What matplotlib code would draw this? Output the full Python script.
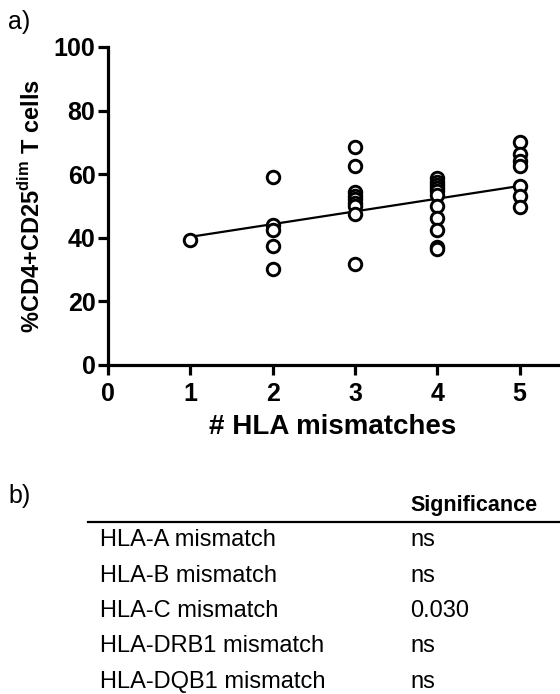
import numpy as np
import matplotlib
matplotlib.use("Agg")
import matplotlib.pyplot as plt
from matplotlib.lines import Line2D

plt.rcParams['font.family'] = ['Liberation Sans', 'DejaVu Sans']
plt.rcParams['mathtext.fontset'] = 'custom'
plt.rcParams['mathtext.rm'] = 'Liberation Sans'
plt.rcParams['mathtext.bf'] = 'Liberation Sans:bold'

# values
mismatches = [1, 2, 3, 4, 5]
cd25_dim = [
    [39.2],
    [59.1, 43.9, 42.6, 37.3, 30.3],
    [68.7, 62.7, 54.3, 53.2, 52.2, 51.1, 50.1, 47.5, 31.9],
    [58.9, 57.7, 56.7, 55.6, 54.6, 53.5, 49.9, 46.2, 42.4, 37.2, 36.5],
    [70.0, 66.3, 64.2, 62.6, 56.2, 53.0, 49.7],
]
fit_x = [1, 5]
fit_y = [40.3, 56.3]

loci = ['HLA-A mismatch', 'HLA-B mismatch', 'HLA-C mismatch',
        'HLA-DRB1 mismatch', 'HLA-DQB1 mismatch']
significance = ['ns', 'ns', '0.030', 'ns', 'ns']

W, H = 560, 694
fig = plt.figure(figsize=(W / 100, H / 100), dpi=100)


def fx(px):
    return px / W


def fy(py):
    return 1 - py / H


# a) scatter with regression line
ax = fig.add_axes([fx(108), fy(365), fx(560) - fx(108), fy(47) - fy(365)])
for x, ys in zip(mismatches, cd25_dim):
    ax.plot(np.full(len(ys), x), ys, 'o', mfc='white', mec='black',
            ms=9, mew=2.1, ls='none', clip_on=False, zorder=3)
ax.plot(fit_x, fit_y, color='black', lw=1.6, zorder=2)

ax.set_xlim(0, 5.49)
ax.set_ylim(0, 100)
ax.set_xticks(range(0, 6))
ax.set_yticks(range(0, 101, 20))
for s in ['top', 'right']:
    ax.spines[s].set_visible(False)
for s in ['left', 'bottom']:
    ax.spines[s].set_linewidth(2.3)
ax.tick_params(direction='out', length=7, width=2.3, labelsize=18, pad=2)
ax.tick_params(axis='x', pad=5)
for lab in ax.get_xticklabels() + ax.get_yticklabels():
    lab.set_fontweight('bold')

ax.set_xlabel('# HLA mismatches', fontsize=20, fontweight='bold', va='center')
ax.xaxis.set_label_coords(0.496, -0.195)
ax.set_ylabel(r'%CD4+CD25$^{\mathbf{dim}}$ T cells', fontsize=17,
              fontweight='bold', va='center')
ax.yaxis.set_label_coords(-0.168, 0.5)

fig.text(fx(8), fy(22), 'a)', fontsize=18, va='center', ha='left')

# b) significance table
fig.text(fx(8), fy(496), 'b)', fontsize=18, va='center', ha='left')
fig.text(fx(410), fy(505), 'Significance', fontsize=15.5, fontweight='bold',
         va='center', ha='left')
fig.add_artist(Line2D([fx(88), fx(560)], [fy(522), fy(522)],
                      color='black', lw=1.6))
for i, (locus, sig) in enumerate(zip(loci, significance)):
    yy = 540 + 35.5 * i
    fig.text(fx(100), fy(yy), locus, fontsize=17, va='center', ha='left')
    fig.text(fx(410), fy(yy), sig, fontsize=17, va='center', ha='left')

fig.savefig('out.png', dpi=100)
